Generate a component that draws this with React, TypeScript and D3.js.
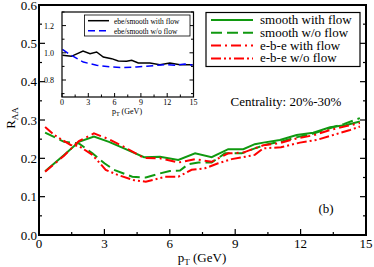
import React from "react";
import * as d3 from "d3";

// ---- main panel data ----
const ptSmoothFlow = [0.28, 1.15, 1.83, 2.52, 3.21, 3.9, 4.82, 5.55, 6.39, 7.16, 7.92, 8.68, 9.37, 9.9, 10.29, 11.05, 11.82, 12.58, 13.35, 14.1, 14.72];
const raaSmoothFlow = [0.166, 0.209, 0.243, 0.257, 0.243, 0.226, 0.203, 0.204, 0.196, 0.213, 0.203, 0.224, 0.224, 0.237, 0.241, 0.248, 0.261, 0.267, 0.281, 0.287, 0.296];

const ptSmoothNoFlow = [0.28, 1.15, 1.83, 2.45, 3.0, 3.44, 4.28, 4.9, 5.5, 6.0, 6.47, 6.85, 7.31, 7.92, 8.53, 9.3, 9.9, 10.5, 11.2, 11.9, 12.6, 13.3, 14.0, 14.72];
const raaSmoothNoFlow = [0.267, 0.243, 0.239, 0.213, 0.187, 0.17, 0.152, 0.15, 0.16, 0.167, 0.168, 0.185, 0.189, 0.189, 0.213, 0.213, 0.226, 0.237, 0.245, 0.256, 0.265, 0.278, 0.29, 0.305];

const ptEbeFlow = [0.28, 1.15, 1.83, 2.52, 3.21, 3.9, 4.82, 5.55, 6.39, 7.16, 7.92, 8.68, 9.37, 9.9, 10.29, 11.05, 11.82, 12.58, 13.35, 14.1, 14.72];
const raaEbeFlow = [0.165, 0.207, 0.245, 0.265, 0.25, 0.23, 0.201, 0.2, 0.189, 0.198, 0.191, 0.213, 0.215, 0.226, 0.234, 0.24, 0.252, 0.26, 0.274, 0.284, 0.292];

const ptEbeNoFlow = [0.28, 0.69, 1.45, 1.83, 2.45, 3.06, 3.6, 4.36, 4.9, 5.78, 6.39, 7.0, 7.61, 8.22, 8.84, 9.45, 9.9, 10.29, 11.1, 11.97, 12.74, 13.5, 14.27, 14.72];
const raaEbeNoFlow = [0.282, 0.261, 0.235, 0.232, 0.209, 0.17, 0.157, 0.143, 0.139, 0.152, 0.152, 0.17, 0.174, 0.187, 0.198, 0.204, 0.209, 0.226, 0.229, 0.241, 0.248, 0.261, 0.274, 0.283];

// ---- inset data ----
const ptRatioFlow = [0.05, 1.07, 2.4, 3.2, 3.95, 4.71, 5.66, 6.42, 7.37, 7.95, 8.7, 10.03, 11.17, 12.3, 13.45, 14.9];
const ratioFlow = [0.982, 0.974, 1.013, 0.994, 1.006, 0.969, 0.957, 0.94, 0.938, 0.945, 0.925, 0.925, 0.913, 0.925, 0.913, 0.913];
const ptRatioNoFlow = [0.05, 0.91, 2.43, 3.95, 5.47, 7.0, 8.5, 9.65, 10.8, 11.9, 13.0, 14.0, 14.9];
const ratioNoFlow = [1.026, 0.987, 0.932, 0.908, 0.896, 0.891, 0.896, 0.901, 0.908, 0.913, 0.908, 0.918, 0.91];

const mainXTicks = [0, 3, 6, 9, 12, 15];
const mainYTicks = [0, 0.1, 0.2, 0.3, 0.4, 0.5, 0.6];
const insetXTicks = [0, 3, 6, 9, 12, 15];
const insetYTicks = [0.8, 1.0, 1.2];

const legendLabels = ["smooth with flow", "smooth w/o flow", "e-b-e with flow", "e-b-e w/o flow"];
const insetLegendLabels = ["ebe/smooth with flow", "ebe/smooth w/o flow"];

const GREEN = "#109910";
const RED = "#ff0000";
const FONT = "'Liberation Serif', 'Times New Roman', serif";

const zip = (xs: number[], ys: number[]) => xs.map((x, i) => [x, ys[i]] as [number, number]);

export default function App() {
  const x = d3.scaleLinear().domain([0, 15]).range([39, 366]);
  const y = d3.scaleLinear().domain([0, 0.6]).range([235, 5]);
  const line = d3.line<[number, number]>().x((d) => x(d[0])).y((d) => y(d[1]));

  const ix = d3.scaleLinear().domain([0, 15]).range([62, 193.5]);
  const iy = d3.scaleLinear().domain([0.675, 1.3]).range([97, 12]);
  const iline = d3.line<[number, number]>().x((d) => ix(d[0])).y((d) => iy(d[1]));

  const series = [
    { d: zip(ptSmoothFlow, raaSmoothFlow), color: GREEN, dash: "none" },
    { d: zip(ptSmoothNoFlow, raaSmoothNoFlow), color: GREEN, dash: "11,5" },
    { d: zip(ptEbeFlow, raaEbeFlow), color: RED, dash: "10,4,2,4" },
    { d: zip(ptEbeNoFlow, raaEbeNoFlow), color: RED, dash: "10,3,2,3,2,3" },
  ];

  const xMinor = d3.range(0, 15.01, 1.5);
  const yMinor = d3.range(0, 0.601, 0.05);
  const ixMinor = d3.range(0, 15.01, 1.5);
  const iyMinor = d3.range(0.7, 1.301, 0.1);

  return (
    <svg width={374} height={267} style={{ position: "absolute", left: 0, top: 0, background: "#fff" }} fontFamily={FONT}>
      {/* main curves */}
      <g fill="none" strokeWidth={2}>
        {series.map((s, i) => (
          <path key={i} d={line(s.d) || ""} stroke={s.color} strokeDasharray={s.dash} />
        ))}
      </g>

      {/* main ticks */}
      <g stroke="#000" strokeWidth={1.2}>
        {xMinor.map((t, i) => {
          const major = Math.abs(t / 3 - Math.round(t / 3)) < 1e-6;
          return <line key={i} x1={x(t)} x2={x(t)} y1={235} y2={235 - (major ? 6 : 3)} />;
        })}
        {yMinor.map((t, i) => {
          const major = Math.abs(t / 0.1 - Math.round(t / 0.1)) < 1e-6;
          const len = major ? 6 : 3;
          return (
            <g key={i}>
              <line x1={39} x2={39 + len} y1={y(t)} y2={y(t)} />
              <line x1={366} x2={366 - len} y1={y(t)} y2={y(t)} />
            </g>
          );
        })}
      </g>
      <rect x={39} y={5} width={327} height={230} fill="none" stroke="#000" strokeWidth={2} />

      {/* main tick labels */}
      <g fontSize={13} fill="#000">
        {mainXTicks.map((t) => (
          <text key={t} x={x(t)} y={248} textAnchor="middle">{t}</text>
        ))}
        {mainYTicks.map((t) => (
          <text key={t} x={37} y={y(t) + 4.5} textAnchor="end">{t.toFixed(1)}</text>
        ))}
      </g>
      <text x={202} y={262} fontSize={13} textAnchor="middle">
        p<tspan fontSize={9} dy={3}>T</tspan><tspan dy={-3}> (GeV)</tspan>
      </text>
      <text transform="translate(15,118) rotate(-90)" fontSize={13} textAnchor="middle">
        R<tspan fontSize={9} dy={3}>AA</tspan>
      </text>

      {/* legend */}
      <rect x={206} y={12.5} width={154} height={54} fill="#fff" stroke="#000" strokeWidth={1.2} />
      {legendLabels.map((lab, i) => {
        const yy = 20 + i * 12.8;
        const s = series[i];
        return (
          <g key={lab}>
            <line x1={211} x2={253} y1={yy} y2={yy} stroke={s.color} strokeWidth={2} strokeDasharray={s.dash} />
            <text x={260} y={yy + 4} fontSize={13}>{lab}</text>
          </g>
        );
      })}

      <text x={286} y={106} fontSize={13} textAnchor="middle">Centrality: 20%-30%</text>
      <text x={326} y={213} fontSize={13} textAnchor="middle">(b)</text>

      {/* inset */}
      <rect x={62} y={12} width={131.5} height={85} fill="#fff" stroke="none" />
      <g fill="none" strokeWidth={1.5}>
        <path d={iline(zip(ptRatioFlow, ratioFlow)) || ""} stroke="#000" />
        <path d={iline(zip(ptRatioNoFlow, ratioNoFlow)) || ""} stroke="#0000ff" strokeDasharray="7,4" />
      </g>
      <g stroke="#000" strokeWidth={1}>
        {ixMinor.map((t, i) => {
          const major = Math.abs(t / 3 - Math.round(t / 3)) < 1e-6;
          return <line key={i} x1={ix(t)} x2={ix(t)} y1={97} y2={97 - (major ? 4 : 2.5)} />;
        })}
        {iyMinor.map((t, i) => {
          const major = Math.abs(t / 0.2 - Math.round(t / 0.2)) < 1e-6;
          const len = major ? 4 : 2.5;
          return (
            <g key={i}>
              <line x1={62} x2={62 + len} y1={iy(t)} y2={iy(t)} />
              <line x1={193.5} x2={193.5 - len} y1={iy(t)} y2={iy(t)} />
            </g>
          );
        })}
      </g>
      <rect x={62} y={12} width={131.5} height={85} fill="none" stroke="#000" strokeWidth={1.2} />
      <g fontSize={8} fill="#000">
        {insetXTicks.map((t) => (
          <text key={t} x={ix(t)} y={105} textAnchor="middle">{t}</text>
        ))}
        {insetYTicks.map((t) => (
          <text key={t} x={54} y={iy(t) + 3} textAnchor="end">{t.toFixed(1)}</text>
        ))}
      </g>
      <text x={127} y={114} fontSize={8} textAnchor="middle">
        p<tspan fontSize={6} dy={2}>T</tspan><tspan dy={-2}> (GeV)</tspan>
      </text>

      {/* inset legend */}
      <rect x={84.5} y={15} width={105.5} height={21} fill="#fff" stroke="#000" strokeWidth={0.8} />
      {insetLegendLabels.map((lab, i) => {
        const yy = 20.7 + i * 10;
        return (
          <g key={lab}>
            <line x1={88} x2={109} y1={yy} y2={yy} stroke={i === 0 ? "#000" : "#0000ff"} strokeWidth={1.5} strokeDasharray={i === 0 ? "none" : "7,4"} />
            <text x={114} y={yy + 2.8} fontSize={7.5}>{lab}</text>
          </g>
        );
      })}
    </svg>
  );
}
